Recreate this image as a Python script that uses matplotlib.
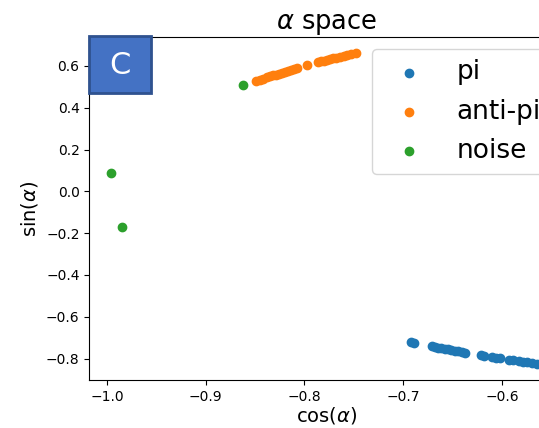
import matplotlib
matplotlib.use("Agg")
import matplotlib.pyplot as plt
from matplotlib.patches import Rectangle

# cos/sin of the angle alpha for each cluster
pi_cos = [-0.692, -0.689, -0.671, -0.668, -0.665, -0.662, -0.658, -0.655, -0.652,
          -0.648, -0.645, -0.641, -0.637, -0.621, -0.618, -0.610, -0.606, -0.602,
          -0.593, -0.589, -0.583, -0.579, -0.575, -0.570, -0.565, -0.560]
pi_sin = [-0.722, -0.725, -0.741, -0.744, -0.747, -0.750, -0.753, -0.756, -0.758,
          -0.762, -0.764, -0.768, -0.771, -0.784, -0.786, -0.792, -0.795, -0.799,
          -0.805, -0.808, -0.812, -0.815, -0.818, -0.822, -0.825, -0.828]

anti_cos = [-0.849, -0.845, -0.842, -0.838, -0.835, -0.832, -0.829, -0.826, -0.823,
            -0.820, -0.817, -0.814, -0.811, -0.808, -0.797, -0.786, -0.783, -0.780,
            -0.777, -0.774, -0.771, -0.768, -0.764, -0.760, -0.757, -0.753, -0.748]
anti_sin = [0.528, 0.535, 0.539, 0.546, 0.550, 0.555, 0.559, 0.564, 0.568,
            0.572, 0.577, 0.581, 0.585, 0.589, 0.604, 0.618, 0.622, 0.626,
            0.630, 0.633, 0.637, 0.640, 0.645, 0.650, 0.653, 0.658, 0.664]

noise_cos = [-0.862, -0.996, -0.985]
noise_sin = [0.507, 0.086, -0.172]

fig = plt.figure(figsize=(5.39, 4.28), dpi=100)
ax = fig.add_axes([0.1657, 0.1121, 0.879, 0.8014])

ax.scatter(pi_cos, pi_sin, label="pi")
ax.scatter(anti_cos, anti_sin, label="anti-pi")
ax.scatter(noise_cos, noise_sin, label="noise")

ax.set_title(r"$\alpha$ space", fontsize=18.5)
ax.set_xlabel(r"cos($\alpha$)", fontsize=14, labelpad=1)
ax.set_ylabel(r"sin($\alpha$)", fontsize=14)
ax.set_yticks([-0.8, -0.6, -0.4, -0.2, 0.0, 0.2, 0.4, 0.6])
ax.legend(loc="upper right", fontsize=19, borderaxespad=0.45)

# panel badge in the top-left corner
ax.add_patch(Rectangle((0.0, 0.838), 0.1296, 0.166, transform=ax.transAxes,
                       facecolor="#4472C4", edgecolor="#2F528F", linewidth=2,
                       clip_on=False, zorder=5))
ax.text(0.0648, 0.918, "C", transform=ax.transAxes, ha="center", va="center",
        color="white", fontsize=22, zorder=6)

fig.savefig("out.png", dpi=100)
